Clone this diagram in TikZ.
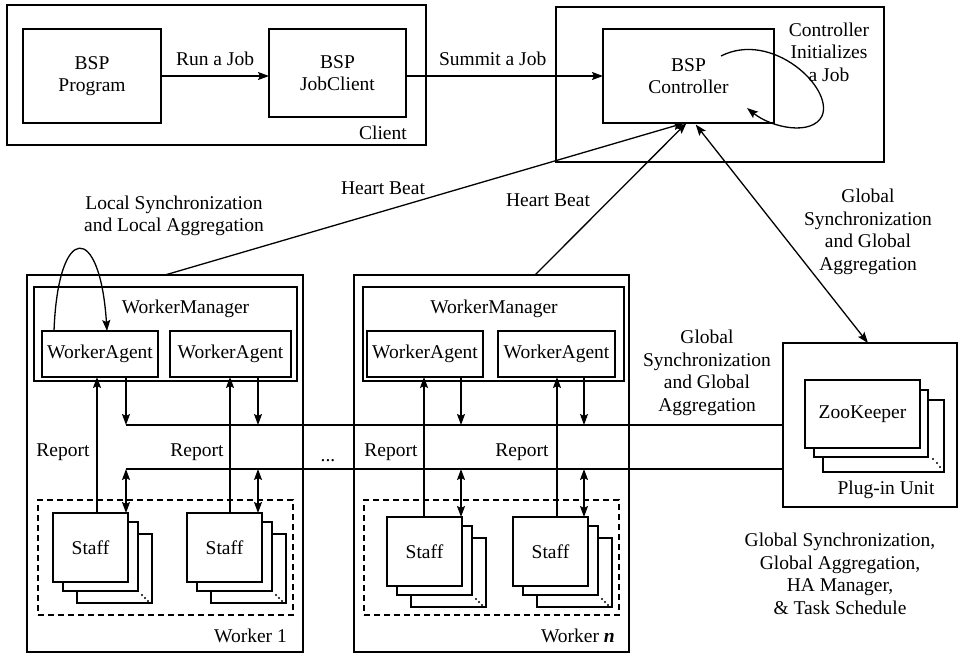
\documentclass[tikz,border=0pt]{standalone}
\usepackage{fontspec}
\setmainfont{Liberation Serif}
\usetikzlibrary{arrows.meta}
\newcommand\fsz{\fontsize{19.5}{22.5}\selectfont}
\begin{document}
\begin{tikzpicture}[x=1pt,y=-1pt,
  box/.style={draw, line width=1.3pt, inner sep=0pt, outer sep=0pt, align=center, font=\fsz},
  sbox/.style={box, fill=white, minimum width=75pt, minimum height=69pt},
  dbox/.style={draw, dashed, dash pattern=on 6pt off 4pt, line width=1.2pt, inner sep=0pt, outer sep=0pt},
  lbl/.style={font=\fsz, align=center, inner sep=0pt},
  ln/.style={line width=1.3pt},
  arr/.style={line width=1.3pt, -{Stealth[length=11pt,width=8pt,inset=2pt]}},
  darr/.style={line width=1.3pt, {Stealth[length=11pt,width=8pt,inset=2pt]}-{Stealth[length=11pt,width=8pt,inset=2pt]}}
]
\useasboundingbox (0,0) rectangle (961,657);

% ---------- Client ----------
\node[box, minimum width=419pt, minimum height=140pt] (client) at (216.5,75) {};
\node[box, minimum width=138pt, minimum height=94pt] (prog) at (92,76) {BSP\\Program};
\node[box, minimum width=137pt, minimum height=88pt] (jobc) at (337.5,73) {BSP\\JobClient};
\node[lbl, anchor=east] (clientlbl) at (407,133) {Client};

% ---------- Controller ----------
\node[box, minimum width=328pt, minimum height=155pt] (ctrlo) at (720,84.5) {};
\node[box, minimum width=171pt, minimum height=94pt] (ctrl) at (688.5,76) {BSP\\Controller};
\node[lbl] (initlbl) at (829,52) {Controller\\Initializes\\a Job};

\draw[arr] (prog.east) -- (prog.east -| jobc.west) node[lbl, midway, above=10pt] (runlbl) {Run a Job};
\draw[arr] (prog.east -| jobc.east) -- (prog.east -| ctrl.west) node[lbl, pos=0.44, above=10pt] (sumlbl) {Summit a Job};

\coordinate (lpA) at (721,56);
\coordinate (lpB) at (747,108);
\draw[arr] (lpA) .. controls (772,30) and (834,88) .. (822,116) .. controls (812,136) and (772,128) .. (lpB);

% ---------- Worker 1 ----------
\node[box, minimum width=276pt, minimum height=377pt] (w1) at (165,463.5) {};
\node[box, minimum width=263pt, minimum height=94pt] (wm1) at (165.5,334) {};
\node[lbl] (wm1lbl) at (185.5,309) {WorkerManager};
\node[box, minimum width=116pt, minimum height=46pt] (wa11) at (100,354) {WorkerAgent};
\node[box, minimum width=121pt, minimum height=46pt] (wa12) at (230.5,354) {WorkerAgent};
\node[dbox, minimum width=255pt, minimum height=115pt] (dash1) at (165.5,557.5) {};
\node[lbl, anchor=east] (w1lbl) at (287,636) {Worker 1};

% ---------- Worker n ----------
\node[box, minimum width=275pt, minimum height=377pt] (wn) at (491.5,463.5) {};
\node[box, minimum width=261pt, minimum height=94pt] (wmn) at (493.5,334) {};
\node[lbl] (wmnlbl) at (494,309) {WorkerManager};
\node[box, minimum width=116pt, minimum height=46pt] (wan1) at (425,354) {WorkerAgent};
\node[box, minimum width=117pt, minimum height=46pt] (wan2) at (556.5,354) {WorkerAgent};
\node[dbox, minimum width=255pt, minimum height=115pt] (dashn) at (491.5,557.5) {};
\node[lbl, anchor=east] (wnlbl) at (615,636) {Worker \textbf{\textit{n}}};

% ---------- Staff stacks ----------
\foreach \nm/\cx/\cy in {s11/90.5/547.5, s12/224.5/547.5, sn1/424.5/551.5, sn2/550.5/551.5}{
  \node[sbox] (\nm c) at (\cx+24,\cy+21) {};
  \node[sbox] (\nm b) at (\cx+10,\cy+9) {};
  \node[sbox] (\nm) at (\cx,\cy) {Staff};
  \fill ([shift={(-10,-8)}]\nm c.south east) circle (1.2pt);
  \fill ([shift={(-7,-5)}]\nm c.south east) circle (1.2pt);
  \fill ([shift={(-4,-2)}]\nm c.south east) circle (1.2pt);
}

% ---------- Plug-in Unit ----------
\node[box, minimum width=174pt, minimum height=164pt] (plug) at (870,425) {};
\node[box, fill=white, minimum width=121pt, minimum height=72pt] (zk3) at (883.5,436) {};
\node[box, fill=white, minimum width=114pt, minimum height=67pt] (zk2) at (871,423.5) {};
\node[box, fill=white, minimum width=115pt, minimum height=68pt] (zk1) at (862.5,414) {ZooKeeper};
\fill ([shift={(-11,-13)}]zk3.south east) circle (1.2pt);
\fill ([shift={(-7,-9)}]zk3.south east) circle (1.2pt);
\fill ([shift={(-4,-5)}]zk3.south east) circle (1.2pt);
\node[lbl] (pluglbl) at (886,490) {Plug-in Unit};

% ---------- Buses ----------
\coordinate (busA) at (126,425);
\coordinate (busB) at (126,469);
\draw[ln] (busA) -- (busA -| plug.west);
\draw[ln] (busB) -- (busB -| plug.west);

\coordinate (uA1) at (97,513);
\coordinate (uA2) at (230,513);
\coordinate (uAn1) at (424,517);
\coordinate (uAn2) at (557,517);
\coordinate (dA1) at (126,513);
\coordinate (dA2) at (258,513);
\coordinate (dAn1) at (461,517);
\coordinate (dAn2) at (584,517);

\draw[arr] (uA1) -- (uA1 |- wa11.south);
\draw[arr] (uA2) -- (uA2 |- wa12.south);
\draw[arr] (uAn1) -- (uAn1 |- wan1.south);
\draw[arr] (uAn2) -- (uAn2 |- wan2.south);

\draw[arr] (dA1 |- wa11.south) -- (dA1 |- busA);
\draw[arr] (dA2 |- wa12.south) -- (dA2 |- busA);
\draw[arr] (dAn1 |- wan1.south) -- (dAn1 |- busA);
\draw[arr] (dAn2 |- wan2.south) -- (dAn2 |- busA);

\draw[darr] (dA1 |- busB) -- (dA1);
\draw[darr] (dA2 |- busB) -- (dA2);
\draw[darr] (dAn1 |- busB) -- (dAn1);
\draw[darr] (dAn2 |- busB) -- (dAn2);

\node[lbl] (rep1) at (63,452) {Report};
\node[lbl] (rep2) at (197,452) {Report};
\node[lbl] (rep3) at (391,452) {Report};
\node[lbl] (rep4) at (522,452) {Report};
\node[lbl, anchor=base] (dots) at (328,461) {...};

% ---------- Local loop ----------
\coordinate (llA) at (54,331);
\coordinate (llB) at (107,331);
\draw[arr] (llA) .. controls (58,222) and (100,222) .. (llB);
\node[lbl] (loclbl) at (174,216) {Local Synchronization\\and Local Aggregation};

% ---------- Heart beats and global ----------
\coordinate (hbn) at (535,275);
\draw[arr] (w1.north) -- ([xshift=-4pt]ctrl.south);
\draw[arr] (hbn) -- ([xshift=-2pt]ctrl.south);
\node[lbl] (hb1) at (383,188) {Heart Beat};
\node[lbl] (hb2) at (548,200) {Heart Beat};
\draw[darr, shorten <=2pt] ([xshift=6pt]ctrl.south) -- ([xshift=-2pt]plug.north);
\node[lbl] (glob1) at (868,232) {Global\\Synchronization\\and Global\\Aggregation};
\node[lbl] (glob2) at (707,373) {Global\\Synchronization\\and Global\\Aggregation};
\node[lbl] (note) at (840,574) {Global Synchronization,\\Global Aggregation,\\HA Manager,\\\& Task Schedule};
\end{tikzpicture}
\end{document}
